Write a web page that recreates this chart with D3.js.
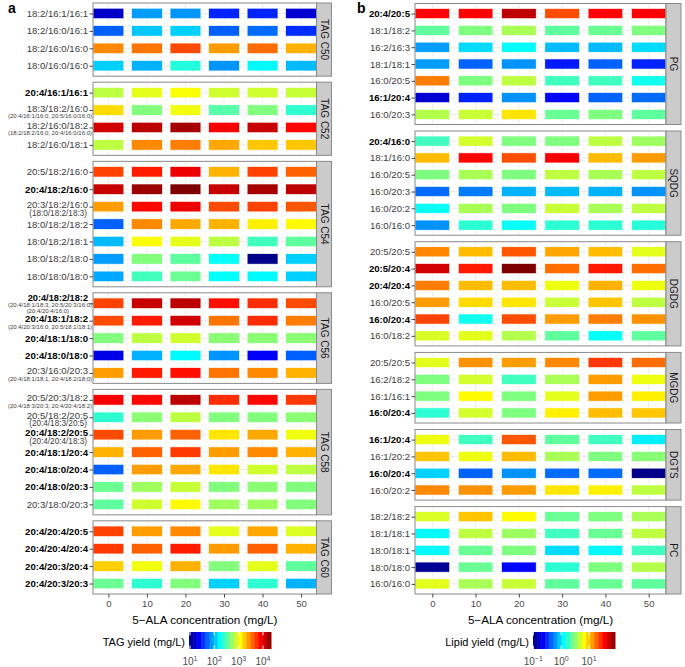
<!DOCTYPE html>
<html><head><meta charset="utf-8">
<script src="https://cdn.jsdelivr.net/npm/d3@7"></script>
<style>body{margin:0;background:#fff} svg{font-family:"Liberation Sans",Arial,sans-serif}</style>
</head><body><svg id="c" width="685" height="667"></svg>
<script>
// ---------------- DATA ----------------
const concentrations = [0, 10, 20, 30, 40, 50];
const xTicks = [0, 10, 20, 30, 40, 50];

// Panel a: TAG species (values = log10 TAG yield, mg/L)
const tagFacets = ["TAG C50", "TAG C52", "TAG C54", "TAG C56", "TAG C58", "TAG C60"];
const tagRowFacet = [
  "TAG C50","TAG C50","TAG C50","TAG C50",
  "TAG C52","TAG C52","TAG C52","TAG C52",
  "TAG C54","TAG C54","TAG C54","TAG C54","TAG C54","TAG C54","TAG C54",
  "TAG C56","TAG C56","TAG C56","TAG C56","TAG C56",
  "TAG C58","TAG C58","TAG C58","TAG C58","TAG C58","TAG C58","TAG C58",
  "TAG C60","TAG C60","TAG C60","TAG C60"];
const tagLabels = [
  "18:2/16:1/16:1","18:2/16:0/16:1","18:2/16:0/16:0","18:0/16:0/16:0",
  "20:4/16:1/16:1","18:3/18:2/16:0","18:2/16:0/18:2","18:2/16:0/18:1",
  "20:5/18:2/16:0","20:4/18:2/16:0","20:3/18:2/16:0","18:0/18:2/18:2","18:0/18:2/18:1","18:0/18:2/18:0","18:0/18:0/18:0",
  "20:4/18:2/18:2","20:4/18:1/18:2","20:4/18:1/18:0","20:4/18:0/18:0","20:3/16:0/20:3",
  "20:5/20:3/18:2","20:5/18:2/20:5","20:4/18:2/20:5","20:4/18:1/20:4","20:4/18:0/20:4","20:4/18:0/20:3","20:3/18:0/20:3",
  "20:4/20:4/20:5","20:4/20:4/20:4","20:4/20:3/20:4","20:4/20:3/20:3"];
const tagBold = [
  0,0,0,0,
  1,0,0,0,
  0,1,0,0,0,0,0,
  1,1,1,1,0,
  0,0,1,1,1,1,0,
  1,1,1,1];
const tagSubLabels = [
  [],[],[],[],
  [],["(20:4/16:1/16:0, 20:5/16:0/16:0)"],["(18:2/18:2/16:0, 20:4/16:0/16:0)"],[],
  [],[],["(18:0/18:2/18:3)"],[],[],[],[],
  ["(20:4/18:1/18:3, 20:5/20:3/16:0)","(20:4/20:4/16:0)"],["(20:4/20:3/16:0, 20:5/18:1/18:1)"],[],[],["(20:4/18:1/18:1, 20:4/18:2/18:0)"],
  ["(20:4/18:3/20:3, 20:4/20:4/18:2)"],["(20:4/18:3/20:5)"],["(20:4/20:4/18:3)"],[],[],[],[],
  [],[],[],[]];
const tagValues = [
  [1.20,1.90,1.87,1.50,1.50,1.23],
  [1.70,2.04,2.07,1.70,1.74,1.53],
  [3.45,3.52,3.66,3.39,3.55,3.32],
  [2.07,1.97,2.34,1.87,2.21,2.00],
  [2.85,2.98,3.05,2.91,2.91,2.88],
  [3.18,2.65,3.02,2.51,2.65,2.38],
  [4.06,4.13,4.20,3.93,4.09,3.89],
  [2.85,3.45,3.49,3.35,3.25,3.25],
  [3.69,3.82,3.96,3.32,3.69,3.59],
  [4.09,4.23,4.33,4.09,4.20,4.13],
  [3.39,3.89,3.96,3.66,3.69,3.62],
  [1.70,3.45,3.35,3.32,3.12,3.08],
  [2.00,3.05,2.98,2.85,2.44,2.54],
  [1.90,2.65,2.54,2.24,1.00,2.07],
  [1.94,2.44,2.58,2.24,2.21,2.07],
  [3.69,4.09,4.13,3.86,3.76,3.66],
  [3.66,3.82,4.06,3.52,3.76,3.49],
  [2.65,2.85,2.91,2.68,2.68,2.68],
  [1.30,1.97,2.21,1.87,1.36,1.70],
  [3.39,3.82,3.86,3.52,3.45,3.32],
  [3.93,3.89,4.13,3.76,3.89,3.72],
  [2.38,2.68,2.85,2.65,2.65,2.68],
  [3.66,3.39,3.59,3.15,3.35,3.02],
  [3.32,3.59,3.72,3.39,3.45,3.32],
  [1.70,3.39,3.35,3.15,2.91,2.85],
  [2.58,2.75,2.88,2.65,2.68,2.65],
  [2.54,2.91,3.08,2.75,2.75,2.65],
  [3.69,3.39,3.45,2.98,3.35,2.95],
  [3.72,3.59,3.82,3.39,3.59,3.32],
  [3.22,3.02,3.32,2.65,2.98,2.54],
  [2.58,2.38,2.65,2.07,2.38,1.97]];
const tagRange = [0.96, 4.33];
const tagLegendTicks = [1, 2, 3, 4];

// Panel b: polar lipid species (values = log10 lipid yield, mg/L)
const lipidFacets = ["PG", "SQDG", "DGDG", "MGDG", "DGTS", "PC"];
const lipidRowFacet = [
  "PG","PG","PG","PG","PG","PG","PG",
  "SQDG","SQDG","SQDG","SQDG","SQDG","SQDG",
  "DGDG","DGDG","DGDG","DGDG","DGDG","DGDG",
  "MGDG","MGDG","MGDG","MGDG",
  "DGTS","DGTS","DGTS","DGTS",
  "PC","PC","PC","PC","PC"];
const lipidLabels = [
  "20:4/20:5","18:1/18:2","16:2/16:3","18:1/18:1","16:0/20:5","16:1/20:4","16:0/20:3",
  "20:4/16:0","18:1/16:0","16:0/20:5","16:0/20:3","16:0/20:2","16:0/16:0",
  "20:5/20:5","20:5/20:4","20:4/20:4","16:0/20:5","16:0/20:4","16:0/18:2",
  "20:5/20:5","16:2/18:2","16:1/16:1","16:0/20:4",
  "16:1/20:4","16:1/20:2","16:0/20:4","16:0/20:2",
  "18:2/18:2","18:1/18:1","18:0/18:1","18:0/18:0","16:0/16:0"];
const lipidBold = [
  1,0,0,0,0,1,0,
  1,0,0,0,0,0,
  0,1,1,0,1,0,
  0,0,0,1,
  1,0,1,0,
  0,0,0,0,0];
const lipidValues = [
  [1.55,1.56,1.75,1.34,1.55,1.56],
  [0.37,0.46,0.58,0.37,0.40,0.46],
  [-0.19,-0.01,0.09,-0.10,-0.10,-0.01],
  [-0.19,-0.36,-0.22,-0.57,-0.36,-0.54],
  [1.20,0.46,0.64,0.28,0.28,0.14],
  [-0.77,-0.54,-0.22,-0.63,-0.36,-0.33],
  [0.61,0.67,0.90,0.40,0.46,0.37],
  [0.28,0.70,0.46,0.46,0.64,0.55],
  [1.02,1.55,1.34,1.58,1.02,1.11],
  [0.46,0.58,0.46,0.64,0.58,0.64],
  [-0.33,-0.28,-0.13,-0.10,-0.13,-0.22],
  [0.11,0.58,0.46,0.67,0.58,0.64],
  [-0.22,0.22,0.11,0.22,0.22,0.20],
  [1.17,1.02,1.31,1.08,1.02,0.75],
  [1.69,1.49,1.93,1.25,1.49,1.25],
  [1.20,1.02,1.02,0.78,1.05,0.78],
  [1.11,0.93,0.90,0.67,0.99,0.64],
  [1.37,0.14,1.34,1.11,1.20,1.14],
  [0.72,0.75,0.61,0.37,0.11,0.37],
  [0.75,1.14,1.11,1.17,1.40,1.25],
  [0.46,0.70,0.28,0.58,1.11,0.78],
  [0.46,0.84,0.46,0.75,1.11,0.87],
  [0.22,0.70,0.46,0.87,1.02,0.99],
  [0.78,0.28,1.31,0.37,0.28,0.05],
  [0.99,0.78,1.02,0.58,0.46,0.49],
  [-0.04,-0.36,-0.22,-0.33,-0.33,-0.98],
  [1.17,1.14,1.11,0.90,0.87,0.64],
  [0.72,0.99,0.84,0.40,0.46,0.58],
  [0.08,0.64,0.55,0.28,0.40,0.64],
  [0.08,0.40,0.46,-0.01,0.08,0.28],
  [-0.95,0.40,-0.63,0.22,0.46,0.61],
  [0.75,0.58,0.67,0.37,0.40,0.37]];
const lipidRange = [-1.01, 1.93];
const lipidLegendTicks = [-1, 0, 1];

// ---------------- DRAWING ----------------
const svg = d3.select("#c");
const jetStops = ["#00007F","#0000FF","#007FFF","#00FFFF","#7FFF7F","#FFFF00","#FF7F00","#FF0000","#7F0000"];
function jet(range) {
  const [a, b] = range;
  return d3.scaleLinear().domain(d3.range(9).map(i => a + (b - a) * i / 8))
    .range(jetStops).interpolate(d3.interpolateRgb).clamp(true);
}

function drawPanel(cfg) {
  const g = svg.append("g");
  const color = jet(cfg.range);
  const x = d3.scaleLinear().domain([-4, 54]).range([cfg.left, cfg.right]);
  const nF = cfg.facets.length;
  const counts = cfg.facets.map(f => cfg.rowFacet.filter(r => r === f).length);
  const unit = (cfg.bottom - cfg.top - cfg.gap * (nF - 1)) / (d3.sum(counts) + 0.2 * nF);
  let y0 = cfg.top;
  const minor = xTicks.slice(0, -1).map((t, i) => (t + xTicks[i + 1]) / 2);
  cfg.facets.forEach((f) => {
    const idx = cfg.rowFacet.map((r, i) => r === f ? i : -1).filter(i => i >= 0);
    const h = (idx.length + 0.2) * unit;
    const y = d3.scalePoint().domain(idx).range([y0, y0 + h]).padding(0.6);
    const pg = g.append("g");
    pg.append("rect").attr("x", cfg.left).attr("y", y0).attr("width", cfg.right - cfg.left).attr("height", h).attr("fill", "#fff");
    pg.selectAll(".mn").data(minor).enter().append("line")
      .attr("x1", d => x(d)).attr("x2", d => x(d)).attr("y1", y0).attr("y2", y0 + h)
      .attr("stroke", "#f3f3f3").attr("stroke-width", 0.5);
    pg.selectAll(".mj").data(xTicks).enter().append("line")
      .attr("x1", d => x(d)).attr("x2", d => x(d)).attr("y1", y0).attr("y2", y0 + h)
      .attr("stroke", "#ebebeb").attr("stroke-width", 0.9);
    pg.selectAll(".hr").data(idx).enter().append("line")
      .attr("x1", cfg.left).attr("x2", cfg.right).attr("y1", d => y(d)).attr("y2", d => y(d))
      .attr("stroke", "#ebebeb").attr("stroke-width", 0.9);
    const th = 0.6 * unit;
    idx.forEach(ri => {
      pg.selectAll(null).data(concentrations.map((c, ci) => ({c, v: cfg.values[ri][ci]}))).enter().append("rect")
        .attr("x", d => x(d.c - 4)).attr("width", d => x(d.c + 4) - x(d.c - 4))
        .attr("y", y(ri) - th / 2).attr("height", th)
        .attr("fill", d => color(d.v)).attr("stroke", "#ffffff").attr("stroke-width", 0.6);
    });
    pg.append("rect").attr("x", cfg.left).attr("y", y0).attr("width", cfg.right - cfg.left).attr("height", h)
      .attr("fill", "none").attr("stroke", "#8a8a8a").attr("stroke-width", 1);
    pg.append("rect").attr("x", cfg.right).attr("y", y0).attr("width", 15).attr("height", h)
      .attr("fill", "#cbcbcb").attr("stroke", "#8a8a8a").attr("stroke-width", 1);
    pg.append("text").attr("transform", `translate(${cfg.right + 7.5},${y0 + h / 2}) rotate(90)`)
      .attr("text-anchor", "middle").attr("dominant-baseline", "central")
      .attr("font-size", 10).attr("fill", "#1a1a1a").text(f);
    const ax = pg.append("g").attr("transform", `translate(${cfg.left},0)`)
      .call(d3.axisLeft(y).tickSize(3.5).tickFormat(""));
    ax.select(".domain").remove();
    ax.selectAll("line").attr("stroke", "#333").attr("stroke-width", 0.9);
    idx.forEach(ri => {
      const subs = cfg.subs ? cfg.subs[ri] : [];
      const cy = y(ri);
      const bold = cfg.bold[ri] === 1;
      let mainDy = 0;
      if (subs.length === 1) mainDy = -2;
      if (subs.length === 2) mainDy = -5.5;
      pg.append("text").attr("x", cfg.left - 5).attr("y", cy + mainDy)
        .attr("text-anchor", "end").attr("dominant-baseline", "central")
        .attr("font-size", subs.length === 2 ? 9.2 : 9.6).attr("font-weight", bold ? "bold" : "normal")
        .attr("fill", bold ? "#000" : "#3c3c3c").text(cfg.labels[ri]);
      subs.forEach((s, si) => {
        const big = s.length < 20 && subs.length === 1;
        const dy = subs.length === 2 ? (si === 0 ? 1.6 : 7.4) : (big ? 6.6 : 6);
        pg.append("text").attr("x", big ? cfg.left - 6 : cfg.left - 1).attr("y", cy + dy)
          .attr("text-anchor", "end").attr("dominant-baseline", "central")
          .attr("font-size", big ? 8.2 : 6).attr("fill", "#3c3c3c")
          .attr("x", (big ? cfg.left - 6 : (s.length < 20 ? cfg.left - 24 : cfg.left - 1))).text(s);
      });
    });
    y0 += h + cfg.gap;
  });
  const xa = g.append("g").attr("transform", `translate(0,${cfg.bottom})`)
    .call(d3.axisBottom(x).tickValues(xTicks).tickSize(3.5).tickPadding(2.5));
  xa.select(".domain").remove();
  xa.selectAll("line").attr("stroke", "#333").attr("stroke-width", 0.9);
  xa.selectAll("text").attr("font-size", 9.6).attr("fill", "#4d4d4d").attr("font-family", "Liberation Sans, Arial, sans-serif");
  g.append("text").attr("x", (cfg.left + cfg.right) / 2).attr("y", 619).attr("text-anchor", "middle")
    .attr("dominant-baseline", "central").attr("font-size", 11.7).attr("fill", "#000")
    .text("5\u2212ALA concentration (mg/L)");
  g.append("text").attr("x", cfg.letterX).attr("y", 13).attr("font-size", 14).attr("font-weight", "bold").text(cfg.letter);
  const lg = g.append("g");
  const bw = cfg.barX1 - cfg.barX0, by0 = 632, bh = 17, nb = 20;
  const lx = d3.scaleLinear().domain(cfg.range).range([cfg.barX0, cfg.barX1]);
  const bins = d3.range(nb).map(i => cfg.range[0] + (cfg.range[1] - cfg.range[0]) * (i + 0.5) / nb);
  lg.selectAll(null).data(bins).enter().append("rect")
    .attr("x", (d, i) => cfg.barX0 + bw * i / nb).attr("width", bw / nb + 0.5)
    .attr("y", by0).attr("height", bh).attr("fill", d => color(d));
  cfg.legendTicks.forEach(t => {
    lg.append("line").attr("x1", lx(t)).attr("x2", lx(t)).attr("y1", by0).attr("y2", by0 + 3.4).attr("stroke", "#fff");
    lg.append("line").attr("x1", lx(t)).attr("x2", lx(t)).attr("y1", by0 + bh - 3.4).attr("y2", by0 + bh).attr("stroke", "#fff");
    const tx = lg.append("text").attr("x", lx(t)).attr("y", 665).attr("text-anchor", "middle")
      .attr("font-size", 10).attr("fill", "#4d4d4d");
    tx.append("tspan").text("10");
    tx.append("tspan").attr("dy", -4.5).attr("font-size", 7).text(String(t).replace("-", "\u2212"));
  });
  lg.append("text").attr("x", cfg.barX0 - 4).attr("y", by0 + bh / 2 + 1).attr("text-anchor", "end")
    .attr("dominant-baseline", "central").attr("font-size", 11).attr("fill", "#000").text(cfg.legendTitle);
}

drawPanel({
  left: 93, right: 316.5, top: 3, bottom: 594, gap: 6,
  facets: tagFacets, rowFacet: tagRowFacet, labels: tagLabels, bold: tagBold, subs: tagSubLabels,
  values: tagValues, range: tagRange, legendTicks: tagLegendTicks,
  letter: "a", letterX: 8, barX0: 189, barX1: 271, legendTitle: "TAG yield (mg/L)"
});
drawPanel({
  left: 415, right: 666, top: 3.5, bottom: 594, gap: 6.5,
  facets: lipidFacets, rowFacet: lipidRowFacet, labels: lipidLabels, bold: lipidBold, subs: null,
  values: lipidValues, range: lipidRange, legendTicks: lipidLegendTicks,
  letter: "b", letterX: 357, barX0: 533, barX1: 615, legendTitle: "Lipid yield (mg/L)"
});
</script></body></html>
